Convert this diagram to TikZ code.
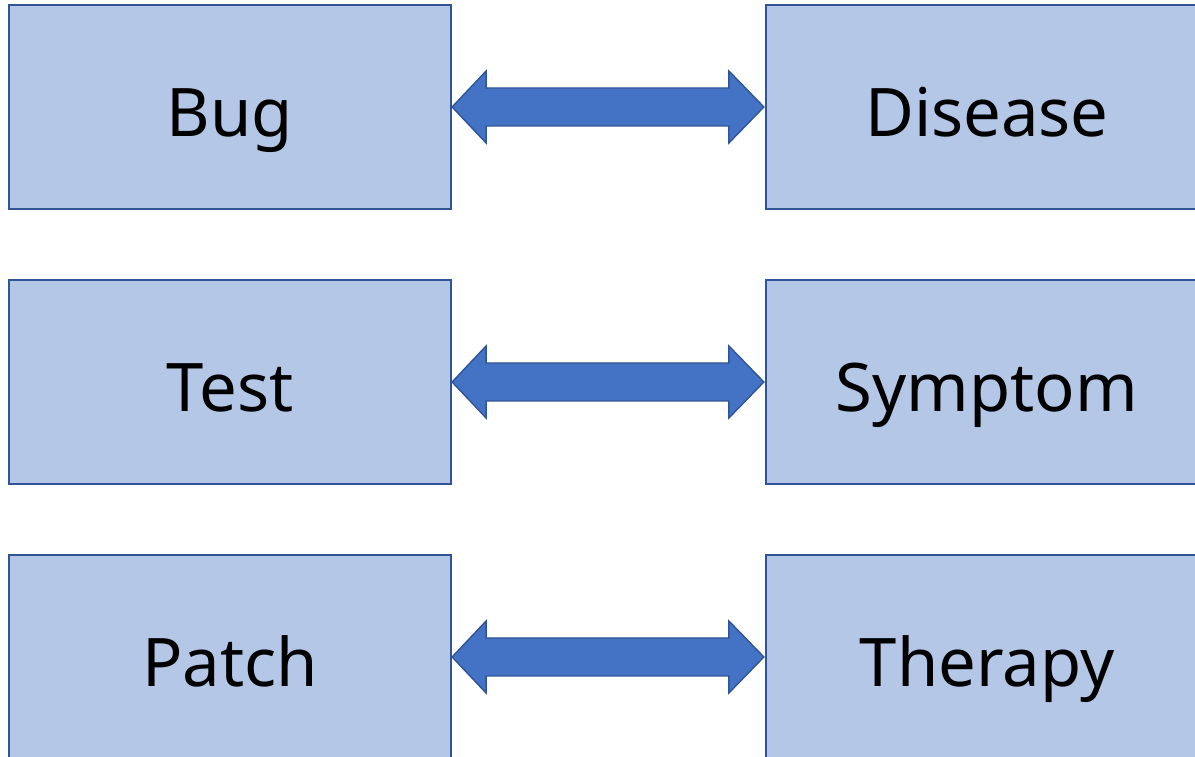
\documentclass[tikz,border=0pt]{standalone}
\usepackage{fontspec}
\setmainfont{Noto Sans}
\usetikzlibrary{positioning,calc}
\definecolor{boxblue}{RGB}{180,199,231}
\definecolor{edgeblue}{RGB}{47,85,151}
\definecolor{arrowblue}{RGB}{68,114,196}

\begin{document}
\begin{tikzpicture}[
      x=1pt, y=1pt,
      term/.style={draw=edgeblue, fill=boxblue, line width=2.2pt,
        minimum width=442pt, minimum height=204pt, inner sep=0pt,
        text height=70pt, text depth=10pt,
        font=\fontsize{67}{70}\selectfont},
      link/.style={draw=edgeblue, fill=arrowblue, line width=1.4pt, line join=miter}
    ]
    \useasboundingbox (0,0) rectangle (1195,757);
    % ---------------- software side ----------------
    \node[term] (bug)   at (230,650) {Bug};
    \node[term] (test)  at (230,375) {Test};
    \node[term] (patch) at (230,100) {Patch};
    % ---------------- medical side ----------------
    \node[term] (dis)   at (987,650) {Disease};
    \node[term] (sym)   at (987,375) {Symptom};
    \node[term] (ther)  at (987,100) {Therapy};
    % ---------------- double arrows ----------------
    \foreach \a/\b in {bug/dis, test/sym, patch/ther}
      \draw[link] (\a.east) -- ++(34,36) -- ++(0,-17)
        -- ($(\b.west)+(-36,19)$) -- ++(0,17) -- ($(\b.west)+(-1,0)$)
        -- ++(-35,-36) -- ++(0,17) -- ($(\a.east)+(34,-19)$)
        -- ++(0,-17) -- cycle;
  \end{tikzpicture}
\end{document}
